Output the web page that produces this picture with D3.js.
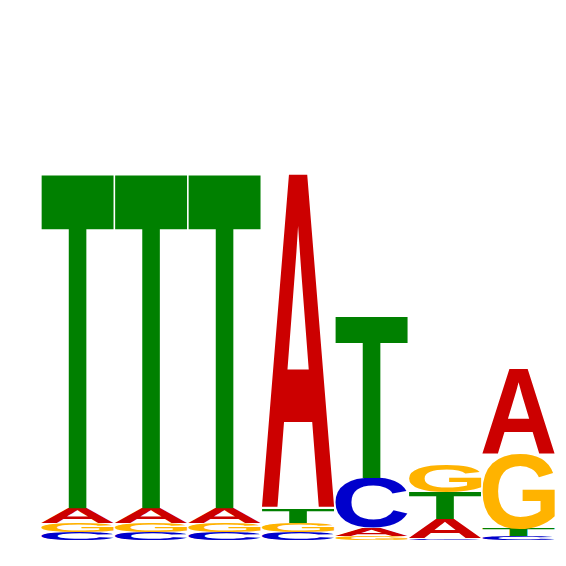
<!DOCTYPE html>
<html>
<head>
<meta charset="utf-8">
<script src="https://cdn.jsdelivr.net/npm/d3@7"></script>
<style>
  html, body { margin: 0; padding: 0; background: #fff; }
</style>
</head>
<body>
<div id="logo"></div>
<script>
// heights in bits, one value per position
const positions = [1, 2, 3, 4, 5, 6, 7];
const letters = ['A', 'C', 'G', 'T'];
const bitsA = [0.058, 0.058, 0.058, 1.305, 0.031, 0.074, 0.329];
const bitsC = [0.031, 0.031, 0.031, 0.031, 0.193, 0.006, 0.014];
const bitsG = [0.035, 0.035, 0.035, 0.035, 0.016, 0.107, 0.292];
const bitsT = [1.298, 1.298, 1.298, 0.054, 0.626, 0.105, 0.027];

const letterColors = {
  'A': '#cc0000',
  'C': '#0000cc',
  'G': '#ffb300',
  'T': '#008000'
};

const width = 566;
const height = 566;
const fontSize = 200;
const fontSpec = `bold ${fontSize}px "Liberation Sans"`;

document.fonts.load(fontSpec).then(draw, draw);

// scan a canvas for the real ink box of a glyph drawn at (ox, oy)
function inkBox(letter) {
  const size = fontSize * 2;
  const ox = fontSize / 2, oy = fontSize * 1.5;
  const canvas = document.createElement('canvas');
  canvas.width = size;
  canvas.height = size;
  const ctx = canvas.getContext('2d');
  ctx.font = fontSpec;
  ctx.fillStyle = '#000';
  ctx.fillText(letter, ox, oy);
  const px = ctx.getImageData(0, 0, size, size).data;
  let x0 = size, x1 = -1, y0 = size, y1 = -1;
  for (let j = 0; j < size; j++) {
    for (let i = 0; i < size; i++) {
      if (px[(j * size + i) * 4 + 3] > 100) {
        if (i < x0) x0 = i;
        if (i > x1) x1 = i;
        if (j < y0) y0 = j;
        if (j > y1) y1 = j;
      }
    }
  }
  return {
    left: ox - x0,
    right: x1 + 1 - ox,
    ascent: oy - y0,
    descent: y1 + 1 - oy
  };
}

function draw() {
  const bits = { 'A': bitsA, 'C': bitsC, 'G': bitsG, 'T': bitsT };

  const ink = {};
  letters.forEach(l => { ink[l] = inkBox(l); });

  const x = d3.scaleBand()
    .domain(positions)
    .range([41.5, 554.5])
    .paddingInner(0.02)
    .paddingOuter(0);

  const y = d3.scaleLinear()
    .domain([0, 2])
    .range([540, 26]);

  const svg = d3.select("#logo")
    .append("svg")
    .attr("width", width)
    .attr("height", height);

  // smallest letter at the bottom, largest on top
  const stacks = positions.map((p, i) => {
    const col = letters.map(l => ({ letter: l, value: bits[l][i] }))
      .sort((a, b) => a.value - b.value);
    let base = 0;
    col.forEach(d => {
      d.y0 = base;
      d.y1 = base + d.value;
      d.pos = p;
      base = d.y1;
    });
    return col;
  });

  const glyphs = stacks.flat().filter(d => y(d.y0) - y(d.y1) > 0.3);

  svg.selectAll("text.letter")
    .data(glyphs)
    .enter()
    .append("text")
    .attr("class", "letter")
    .attr("x", 0)
    .attr("y", 0)
    .style("font", fontSpec)
    .attr("fill", d => letterColors[d.letter])
    .attr("transform", d => {
      const g = ink[d.letter];
      const w = x.bandwidth();
      const h = y(d.y0) - y(d.y1);
      const sx = w / (g.left + g.right);
      const sy = h / (g.ascent + g.descent);
      return `translate(${x(d.pos)},${y(d.y1)}) scale(${sx},${sy}) translate(${g.left},${g.ascent})`;
    })
    .text(d => d.letter);
}
</script>
</body>
</html>
